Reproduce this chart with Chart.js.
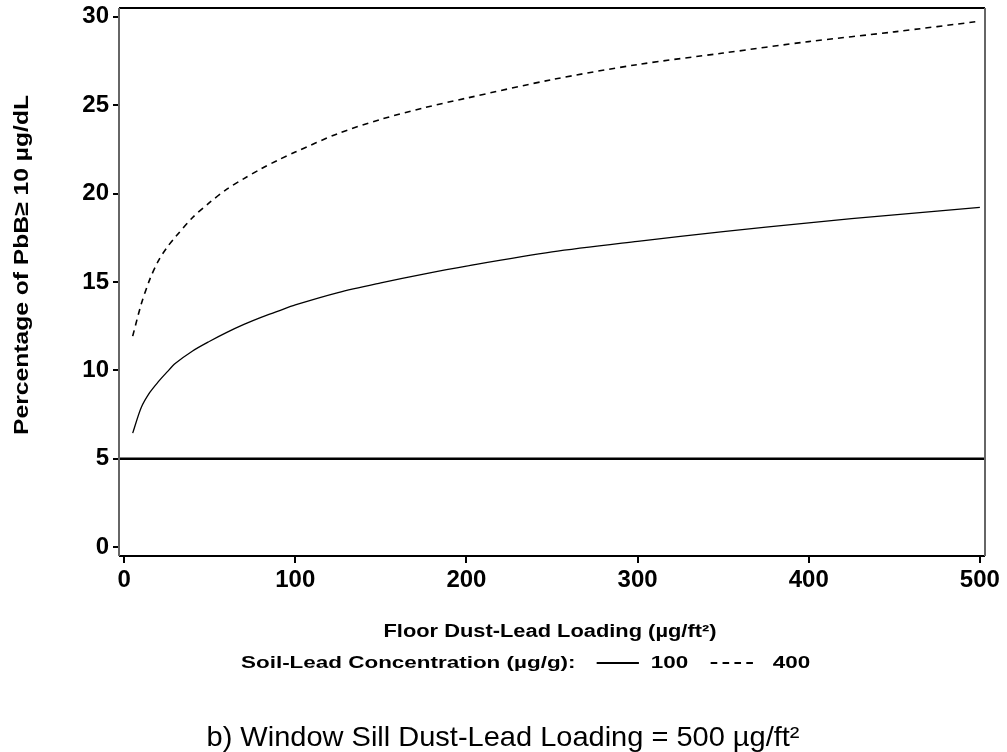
<!DOCTYPE html>
<html><head><meta charset="utf-8">
<script src="https://cdn.jsdelivr.net/npm/chart.js@4/dist/chart.umd.min.js"></script>
<style>html,body{margin:0;padding:0;background:#fff}#wrap{width:1007px;height:752px}</style>
</head><body><div id="wrap"><canvas id="c" width="1007" height="752"></canvas></div>
<script>
// Floor dust-lead loading (µg/ft²)
const floorLoading = [5,10,15,20,25,30,40,50,60,70,80,90,100,125,150,175,200,250,300,350,400,450,500];
// Soil-lead concentration 100 µg/g
const soil100 = [6.45,7.9,8.75,9.36,9.9,10.4,11.1,11.65,12.15,12.6,13.0,13.35,13.7,14.4,14.95,15.45,15.9,16.7,17.3,17.85,18.35,18.8,19.22];
// Soil-lead concentration 400 µg/g
const soil400 = [11.94,13.75,15.15,16.2,16.95,17.55,18.65,19.5,20.25,20.85,21.4,21.9,22.35,23.4,24.2,24.85,25.4,26.45,27.3,27.95,28.6,29.15,29.75];
const refLevel = 5;
const xTicks = [0,100,200,300,400,500];
const yTicks = [0,5,10,15,20,25,30];
const xRange = [-3, 503];
const yRange = [-0.5, 30.5];

const FONT = "'Liberation Sans', Arial, sans-serif";

const toPts = (xs, ys) => xs.map((x, i) => ({x, y: ys[i]}));

// draw text centred at (cx, cy), stretched horizontally to a target width
function stretchedText(ctx, text, cx, cy, font, targetW) {
  ctx.save();
  ctx.font = font;
  const w = ctx.measureText(text).width;
  const k = targetW / w;
  ctx.translate(cx, cy);
  ctx.scale(k, 1);
  ctx.textAlign = 'center';
  ctx.textBaseline = 'middle';
  ctx.fillText(text, 0, 0);
  ctx.restore();
}

const framePlugin = {
  id: 'frame',
  afterDatasetsDraw(chart) {
    const {ctx, chartArea: a} = chart;
    ctx.save();
    ctx.lineWidth = 2;
    ctx.strokeStyle = '#000';
    ctx.beginPath();
    ctx.moveTo(a.left, a.top); ctx.lineTo(a.right, a.top);
    ctx.moveTo(a.left, a.bottom); ctx.lineTo(a.right, a.bottom);
    ctx.stroke();
    ctx.strokeStyle = '#666';
    ctx.beginPath();
    ctx.moveTo(a.left, a.top); ctx.lineTo(a.left, a.bottom);
    ctx.moveTo(a.right, a.top); ctx.lineTo(a.right, a.bottom);
    ctx.stroke();
    ctx.restore();
  }
};

const textPlugin = {
  id: 'texts',
  afterDraw(chart) {
    const ctx = chart.ctx;
    ctx.save();
    ctx.fillStyle = '#000';
    // x-axis title
    stretchedText(ctx, 'Floor Dust-Lead Loading (µg/ft²)', 550, 632, "bold 18px " + FONT, 333);
    // legend (stretched group)
    ctx.save();
    const k = 1.32, x0 = 241, ly = 663;
    ctx.translate(x0, ly);
    ctx.scale(k, 1);
    ctx.font = "bold 17px " + FONT;
    ctx.textAlign = 'left';
    ctx.textBaseline = 'middle';
    let x = 0;
    const lbl = 'Soil-Lead Concentration (µg/g):';
    ctx.fillText(lbl, x, 0);
    x += ctx.measureText(lbl).width + 16;
    ctx.strokeStyle = '#000';
    ctx.lineWidth = 1.8;
    ctx.beginPath(); ctx.moveTo(x, 0); ctx.lineTo(x + 32, 0); ctx.stroke();
    x += 41;
    ctx.fillText('100', x, 0);
    x += ctx.measureText('100').width + 17;
    ctx.setLineDash([5, 4]);
    ctx.beginPath(); ctx.moveTo(x, 0); ctx.lineTo(x + 36, 0); ctx.stroke();
    ctx.setLineDash([]);
    x += 47;
    ctx.fillText('400', x, 0);
    ctx.restore();
    // caption
    stretchedText(ctx, 'b) Window Sill Dust-Lead Loading = 500 µg/ft²', 503, 738, "28px " + FONT, 593);
    // y-axis title
    ctx.save();
    ctx.translate(22, 265);
    ctx.rotate(-Math.PI / 2);
    stretchedText(ctx, 'Percentage of PbB≥ 10 µg/dL', 0, 0, "bold 21px " + FONT, 340);
    ctx.restore();
    ctx.restore();
  }
};

new Chart(document.getElementById('c'), {
  type: 'line',
  data: {
    datasets: [
      {label: '100', data: toPts(floorLoading, soil100), borderColor: '#000', borderWidth: 1.3, pointRadius: 0, tension: 0.3, fill: false},
      {label: '400', data: toPts(floorLoading, soil400), borderColor: '#000', borderWidth: 1.6, borderDash: [6, 5], pointRadius: 0, tension: 0.3, fill: false},
      {label: 'ref', data: [{x: xRange[0], y: refLevel}, {x: xRange[1], y: refLevel}], borderColor: '#000', borderWidth: 2.5, pointRadius: 0, fill: false}
    ]
  },
  options: {
    responsive: false,
    animation: false,
    devicePixelRatio: 1,
    layout: {padding: {left: 0, top: 8, right: 22, bottom: 156}},
    plugins: {legend: {display: false}, tooltip: {enabled: false}, title: {display: false}},
    scales: {
      x: {
        type: 'linear', min: xRange[0], max: xRange[1],
        afterBuildTicks: s => { s.ticks = xTicks.map(v => ({value: v})); },
        afterFit: s => { s.height = 40; s.paddingLeft = 0; s.paddingRight = 0; },
        ticks: {font: {family: FONT, size: 24, weight: 'bold'}, color: '#000', padding: 3, maxRotation: 0, autoSkip: false},
        grid: {drawOnChartArea: false, drawTicks: true, tickLength: 7, color: '#000', lineWidth: 2},
        border: {display: false}
      },
      y: {
        type: 'linear', min: yRange[0], max: yRange[1],
        afterBuildTicks: s => { s.ticks = yTicks.map(v => ({value: v})); },
        afterFit: s => { s.width = 119; s.paddingTop = 0; s.paddingBottom = 0; },
        ticks: {font: {family: FONT, size: 24, weight: 'bold'}, color: '#000', padding: 4, autoSkip: false},
        grid: {drawOnChartArea: false, drawTicks: true, tickLength: 6, color: '#000', lineWidth: 2},
        border: {display: false}
      }
    }
  },
  plugins: [framePlugin, textPlugin]
});
</script>
</body></html>
